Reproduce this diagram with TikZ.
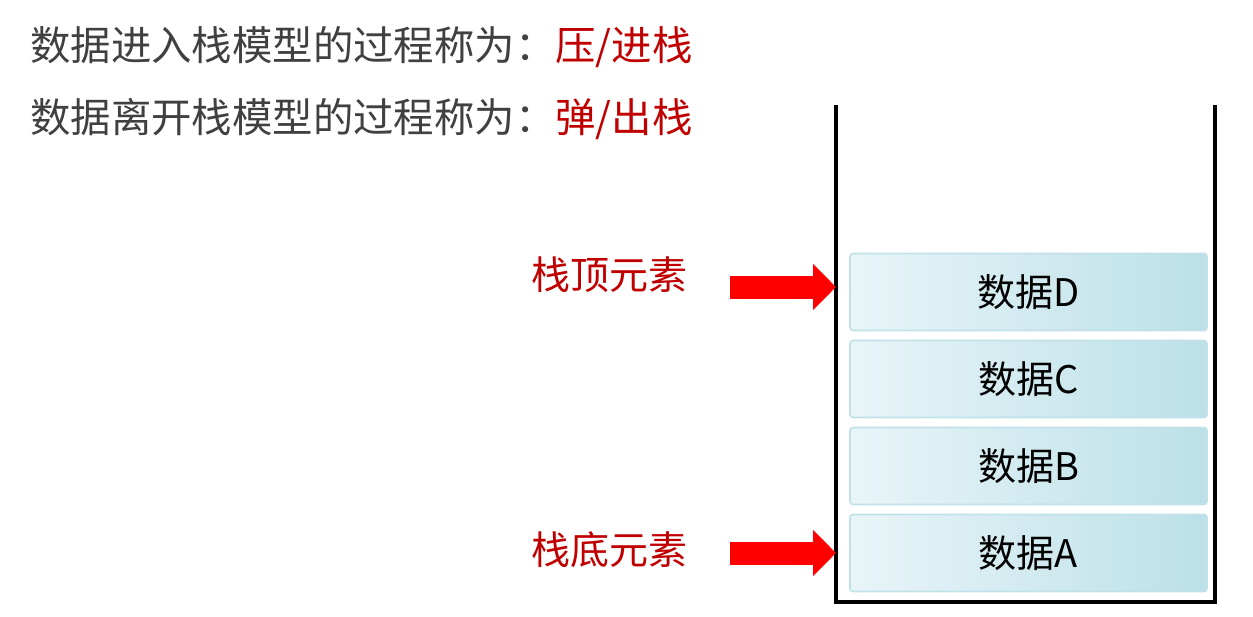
\documentclass[tikz,border=0pt]{standalone}
\usepackage{fontspec}
\setmainfont{Noto Sans CJK SC}
\usepackage{xcolor}
\usetikzlibrary{arrows.meta, positioning}

\definecolor{textGray}{HTML}{404040}
\definecolor{labelRed}{HTML}{C00000}
\definecolor{boxLight}{HTML}{E8F5F8}
\definecolor{boxDark}{HTML}{BCE0E8}
\definecolor{boxEdge}{HTML}{C0E1E8}

\begin{document}
\begin{tikzpicture}[
    x=0.5pt, y=-0.5pt,
    node distance=5pt,
    titleText/.style={
        anchor=west,
        inner sep=0pt,
        text=textGray,
        font=\fontsize{20.2pt}{24pt}\selectfont
    },
    sideLabel/.style={
        inner sep=0pt,
        text=labelRed,
        font=\fontsize{19.5pt}{23pt}\selectfont
    },
    dataBox/.style={
        rectangle,
        rounded corners=1.5pt,
        minimum width=178.5pt,
        minimum height=38.5pt,
        outer sep=0pt,
        left color=boxLight,
        right color=boxDark,
        draw=boxEdge,
        line width=0.8pt,
        text=black,
        font=\fontsize{19pt}{23pt}\selectfont
    },
    stackWall/.style={
        draw=black,
        line width=2pt
    },
    pushArrow/.style={
        draw=red,
        line width=11.5pt,
        -{Triangle[length=11.5pt, width=22.5pt]}
    }
]
\useasboundingbox (0,0) rectangle (1253,616);

% Texte du haut
\node[titleText] (lineIn) at (30,47) {数据进入栈模型的过程称为：\textcolor{labelRed}{压/进栈}};
\node[titleText] (lineOut) at (30,119) {数据离开栈模型的过程称为：\textcolor{labelRed}{弹/出栈}};

% Parois de la pile
\coordinate (wallTL) at (836,105);
\coordinate (wallBL) at (836,602);
\coordinate (wallBR) at (1215,602);
\coordinate (wallTR) at (1215,105);
\draw[stackWall] (wallTL) -- (wallBL) -- (wallBR) -- (wallTR);

% Elements
\node[dataBox] (boxA) at (1028.5,553) {数据A};
\node[dataBox, above=of boxA] (boxB) {数据B};
\node[dataBox, above=of boxB] (boxC) {数据C};
\node[dataBox, above=of boxC] (boxD) {数据D};

% Etiquettes
\node[sideLabel] (lblTop) at (609,275) {栈顶元素};
\node[sideLabel] (lblBottom) at (609,550) {栈底元素};

\draw[pushArrow] ([xshift=21.5pt, yshift=2.5pt]lblTop.east |- boxD.west) -- ([yshift=2.5pt]boxD.west -| wallTL);
\draw[pushArrow] ([xshift=21.5pt]lblBottom.east |- boxA.west) -- (boxA.west -| wallTL);

\end{tikzpicture}
\end{document}
